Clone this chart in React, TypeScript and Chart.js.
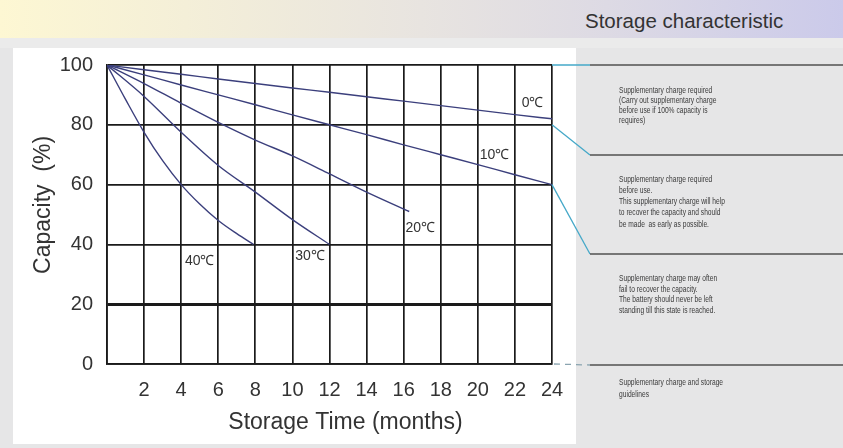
import React, { useEffect, useRef } from 'react';
import { Chart, registerables } from 'chart.js';

Chart.register(...registerables);

// ---------------- data ----------------
const seriesNames = ['0℃', '10℃', '20℃', '30℃', '40℃'];

const months0 = [0, 2, 4, 6, 8, 10, 12, 14, 16, 18, 20, 22, 24];
const capacity0 = [100, 98.4, 96.9, 95.3, 93.8, 92.3, 90.9, 89.4, 87.9, 86.4, 84.9, 83.4, 82];

const months10 = [0, 2, 4, 6, 8, 10, 12, 14, 16, 18, 20, 22, 24];
const capacity10 = [100, 96.7, 93.3, 90, 86.7, 83.3, 80, 76.7, 73.3, 70, 66.7, 63.3, 60];

const months20 = [0, 2, 4, 6, 8, 10, 12, 14, 16.3];
const capacity20 = [100, 93.8, 87.2, 80.8, 74.9, 69.6, 63.6, 57.5, 51];

const months30 = [0, 2, 4, 6, 8, 10, 12];
const capacity30 = [100, 89.5, 77.5, 66.4, 57.5, 48.3, 40];

const months40 = [0, 1, 2, 3, 4, 5, 6, 7, 7.9];
const capacity40 = [100, 88.5, 77.5, 68, 60, 53.5, 48, 43.6, 40];

const xTickStep = 2;
const yTickStep = 20;
const zoneBounds = [100, 80, 60, 0];

const titleText = 'Storage characteristic';
const xTitle = 'Storage Time (months)';
const yTitle = 'Capacity  (%)';

const noteBlocks = [
  ['Supplementary charge required', '(Carry out supplementary charge', 'before use if 100% capacity is', 'requires)'],
  [
    'Supplementary charge required',
    'before use.',
    'This supplementary charge will help',
    'to recover the capacity and should',
    'be made  as early as possible.',
  ],
  [
    'Supplementary charge may often',
    'fail to recover the capacity.',
    'The battery should never be left',
    'standing till this state is reached.',
  ],
  ['Supplementary charge and storage', 'guidelines'],
];

// ---------------- layout / style ----------------
const FONT = '"Liberation Sans", Arial, Helvetica, sans-serif';
const LINE_COLOR = '#3b3f7c';
const GRID_COLOR = '#1a1a1a';
// label anchors (in data units) for the curve labels
const LABEL_ANCHORS: [number, number][] = [
  [22.95, 87.3],
  [20.9, 69.9],
  [16.9, 45.5],
  [10.95, 36.1],
  [5.0, 34.4],
];
const PANEL_X = 590;
const PANEL_LINE_Y = [155, 254, 365];
const NOTE_LAYOUT = [
  { top: 85, lh: 10 },
  { top: 173.5, lh: 11.3 },
  { top: 273, lh: 10.5 },
  { top: 377, lh: 11.5 },
];

const monthsList = [months0, months10, months20, months30, months40];
const capacityList = [capacity0, capacity10, capacity20, capacity30, capacity40];

const overlayPlugin = {
  id: 'overlay',
  afterDatasetsDraw(chart: any) {
    const { ctx, scales } = chart;
    const x = scales.x;
    const y = scales.y;
    ctx.save();
    // curve labels
    ctx.font = `14px ${FONT}`;
    ctx.fillStyle = '#333';
    ctx.textAlign = 'center';
    ctx.textBaseline = 'middle';
    seriesNames.forEach((n, i) => {
      ctx.fillText(n, x.getPixelForValue(LABEL_ANCHORS[i][0]), y.getPixelForValue(LABEL_ANCHORS[i][1]));
    });

    const xe = x.getPixelForValue(x.max);
    const targets = [y.getPixelForValue(zoneBounds[0]), ...PANEL_LINE_Y];
    // connectors
    ctx.lineWidth = 1.3;
    ctx.strokeStyle = '#45a8c8';
    for (let i = 0; i < 3; i++) {
      ctx.beginPath();
      ctx.moveTo(xe, y.getPixelForValue(zoneBounds[i]));
      ctx.lineTo(PANEL_X, targets[i]);
      ctx.stroke();
    }
    ctx.strokeStyle = '#8aa4b0';
    ctx.setLineDash([6, 5]);
    ctx.beginPath();
    ctx.moveTo(xe + 2, y.getPixelForValue(zoneBounds[3]));
    ctx.lineTo(PANEL_X, targets[3]);
    ctx.stroke();
    ctx.setLineDash([]);
    // panel separators
    ctx.strokeStyle = '#505050';
    ctx.lineWidth = 1.5;
    targets.forEach((ty) => {
      ctx.beginPath();
      ctx.moveTo(PANEL_X, ty);
      ctx.lineTo(chart.width, ty);
      ctx.stroke();
    });
    ctx.restore();
  },
};

export default function App() {
  const ref = useRef<HTMLCanvasElement | null>(null);

  useEffect(() => {
    document.body.style.margin = '0';
    const canvas = ref.current;
    if (!canvas) return;
    const chart = new Chart(canvas, {
      type: 'line',
      data: {
        datasets: seriesNames.map((name, i) => ({
          label: name,
          data: monthsList[i].map((m, j) => ({ x: m, y: capacityList[i][j] })),
          borderColor: LINE_COLOR,
          borderWidth: 1.4,
          pointRadius: 0,
          fill: false,
          cubicInterpolationMode: 'monotone' as const,
        })),
      },
      options: {
        responsive: false,
        animation: false,
        layout: { padding: { top: 65, right: 291, bottom: 0, left: 0 } },
        plugins: { legend: { display: false }, tooltip: { enabled: false } },
        scales: {
          x: {
            type: 'linear',
            min: 0,
            max: 24,
            afterFit: (s: any) => {
              s.height = 84;
            },
            ticks: {
              stepSize: xTickStep,
              autoSkip: false,
              maxRotation: 0,
              padding: 14,
              color: '#333',
              font: { family: FONT, size: 20 },
              callback: (v: any) => (v === 0 ? '' : String(v)),
            },
            grid: { color: GRID_COLOR, lineWidth: 1.7, drawTicks: false },
            border: { display: true, color: GRID_COLOR, width: 1.7 },
            title: {
              display: true,
              text: '     ' + xTitle,
              color: '#333',
              font: { family: FONT, size: 23 },
              padding: { top: 0, bottom: 12 },
            },
          },
          y: {
            type: 'linear',
            min: 0,
            max: 100,
            afterFit: (s: any) => {
              s.width = 107;
            },
            ticks: {
              stepSize: yTickStep,
              padding: 14,
              color: '#333',
              font: { family: FONT, size: 20 },
            },
            grid: {
              color: GRID_COLOR,
              lineWidth: (c: any) => (c.tick && c.tick.value === 20 ? 3 : 1.7),
              drawTicks: false,
            },
            border: { display: true, color: GRID_COLOR, width: 1.7 },
            title: {
              display: true,
              text: '   ' + yTitle,
              color: '#333',
              font: { family: FONT, size: 23 },
              padding: { top: 30, bottom: 0 },
            },
          },
        },
      },
      plugins: [overlayPlugin],
    } as any);
    return () => chart.destroy();
  }, []);

  return (
    <div
      style={{
        position: 'relative',
        width: 843,
        height: 448,
        overflow: 'hidden',
        background: '#e6e6e7',
        fontFamily: FONT,
      }}
    >
      <div
        style={{
          position: 'absolute',
          left: 0,
          top: 0,
          width: 843,
          height: 38,
          background: 'linear-gradient(90deg, #fdf7d3 0%, #f4efd8 22%, #e8e4e0 50%, #dddae4 72%, #cbcaea 100%)',
        }}
      />
      <div style={{ position: 'absolute', left: 0, top: 38, width: 843, height: 10, background: '#ebebeb' }} />
      <div style={{ position: 'absolute', left: 13, top: 48, width: 563, height: 396, background: '#ffffff' }} />
      <div
        style={{
          position: 'absolute',
          left: 585,
          top: 11,
          fontSize: 20.5,
          lineHeight: '20px',
          color: '#333',
          whiteSpace: 'pre',
        }}
      >
        {titleText}
      </div>
      <canvas ref={ref} width={843} height={448} style={{ position: 'absolute', left: 0, top: 0, width: 843, height: 448 }} />
      {noteBlocks.map((lines, bi) => (
        <div
          key={bi}
          style={{
            position: 'absolute',
            left: 619,
            top: NOTE_LAYOUT[bi].top,
            fontSize: 9,
            lineHeight: NOTE_LAYOUT[bi].lh + 'px',
            color: '#3a3a3a',
            whiteSpace: 'pre',
            transform: 'scaleX(0.74)',
            transformOrigin: 'left top',
          }}
        >
          {lines.map((l, li) => (
            <div key={li}>{l}</div>
          ))}
        </div>
      ))}
    </div>
  );
}
